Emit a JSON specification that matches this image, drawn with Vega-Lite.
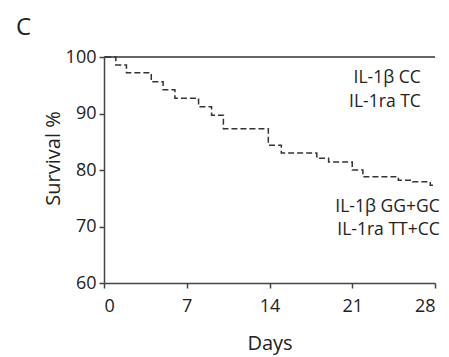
{
  "$schema": "https://vega.github.io/schema/vega-lite/v6.json",
  "width": 331,
  "height": 226,
  "autosize": "none",
  "padding": {"left": 104, "top": 57, "right": 14, "bottom": 74},
  "background": "white",
  "config": {
    "view": {"stroke": null},
    "font": "Open Sans",
    "axis": {"grid": false, "domainColor": "#444", "tickColor": "#444", "domainWidth": 1.5, "tickWidth": 1.5, "labelColor": "#222", "titleColor": "#222", "labelFontSize": 18, "titleFontSize": 20, "titleFontWeight": "normal", "tickSize": 5, "labelPadding": 3}
  },
  "title": {"text": "C", "anchor": "start", "frame": "group", "dx": -88, "offset": 8, "fontSize": 24, "fontWeight": "normal", "color": "#222", "font": "Open Sans"},
  "datasets": {
    "curves": [
      {"group": "IL-1β CC / IL-1ra TC", "day": 0, "surv": 100},
      {"group": "IL-1β CC / IL-1ra TC", "day": 28, "surv": 100},
      {"group": "IL-1β GG+GC / IL-1ra TT+CC", "day": 0.1, "surv": 100},
      {"group": "IL-1β GG+GC / IL-1ra TT+CC", "day": 1.0, "surv": 98.6},
      {"group": "IL-1β GG+GC / IL-1ra TT+CC", "day": 1.9, "surv": 97.2},
      {"group": "IL-1β GG+GC / IL-1ra TT+CC", "day": 4.0, "surv": 95.6},
      {"group": "IL-1β GG+GC / IL-1ra TT+CC", "day": 5.0, "surv": 94.2},
      {"group": "IL-1β GG+GC / IL-1ra TT+CC", "day": 6.0, "surv": 92.7},
      {"group": "IL-1β GG+GC / IL-1ra TT+CC", "day": 8.0, "surv": 91.2},
      {"group": "IL-1β GG+GC / IL-1ra TT+CC", "day": 9.1, "surv": 89.7},
      {"group": "IL-1β GG+GC / IL-1ra TT+CC", "day": 10.1, "surv": 87.3},
      {"group": "IL-1β GG+GC / IL-1ra TT+CC", "day": 13.9, "surv": 84.4},
      {"group": "IL-1β GG+GC / IL-1ra TT+CC", "day": 15.0, "surv": 83.0},
      {"group": "IL-1β GG+GC / IL-1ra TT+CC", "day": 18.0, "surv": 82.1},
      {"group": "IL-1β GG+GC / IL-1ra TT+CC", "day": 19.0, "surv": 81.4},
      {"group": "IL-1β GG+GC / IL-1ra TT+CC", "day": 21.0, "surv": 80.0},
      {"group": "IL-1β GG+GC / IL-1ra TT+CC", "day": 21.9, "surv": 78.8},
      {"group": "IL-1β GG+GC / IL-1ra TT+CC", "day": 24.9, "surv": 78.2},
      {"group": "IL-1β GG+GC / IL-1ra TT+CC", "day": 26.1, "surv": 77.9},
      {"group": "IL-1β GG+GC / IL-1ra TT+CC", "day": 27.6, "surv": 77.3},
      {"group": "IL-1β GG+GC / IL-1ra TT+CC", "day": 28.0, "surv": 77.3}
    ],
    "labels": [
      {"label": "IL-1β CC", "day": 26.8, "surv": 96.3},
      {"label": "IL-1ra TC", "day": 26.8, "surv": 92.0},
      {"label": "IL-1β GG+GC", "day": 28.4, "surv": 73.5},
      {"label": "IL-1ra TT+CC", "day": 28.4, "surv": 69.4}
    ]
  },
  "layer": [
    {
      "data": {"name": "curves"},
      "mark": {"type": "line", "interpolate": "step-after", "color": "#333", "strokeWidth": 1.5},
      "encoding": {
        "x": {"field": "day", "type": "quantitative", "scale": {"domain": [0, 28], "nice": false, "zero": false}, "axis": {"values": [0, 7, 14, 21, 28], "title": "Days", "titlePadding": 18, "labelPadding": 9}},
        "y": {"field": "surv", "type": "quantitative", "scale": {"domain": [60, 100], "nice": false, "zero": false}, "axis": {"values": [60, 70, 80, 90, 100], "title": "Survival %", "titleX": -51, "titleY": 101, "titleAlign": "center", "titleBaseline": "middle", "titleAngle": -90}},
        "detail": {"field": "group"},
        "strokeDash": {"field": "group", "type": "nominal", "scale": {"domain": ["IL-1β CC / IL-1ra TC", "IL-1β GG+GC / IL-1ra TT+CC"], "range": [[1, 0], [6, 3]]}, "legend": null}
      }
    },
    {
      "data": {"name": "labels"},
      "mark": {"type": "text", "align": "right", "baseline": "middle", "fontSize": 17.5, "color": "#222", "font": "Open Sans"},
      "encoding": {
        "x": {"field": "day", "type": "quantitative"},
        "y": {"field": "surv", "type": "quantitative"},
        "text": {"field": "label"}
      }
    }
  ]
}
